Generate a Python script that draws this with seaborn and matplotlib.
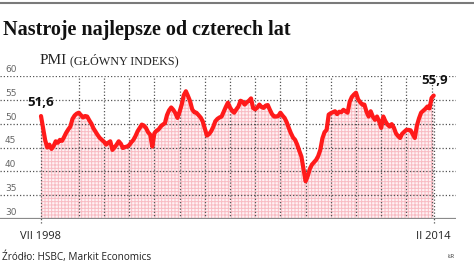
import matplotlib
matplotlib.use('Agg')
import matplotlib.pyplot as plt
import seaborn as sns
import pandas as pd

# PMI monthly values, VII 1998 .. II 2014
pmi = [51.6, 49.0, 46.5, 45.0, 45.6, 44.7, 45.3, 46.3, 46.0, 46.6,
       46.4, 47.2, 48.1, 48.8, 49.4, 51.0, 51.7, 52.1, 52.3, 51.8,
       51.3, 51.6, 51.5, 50.7, 50.0, 49.0, 48.3, 47.6, 47.0, 46.6,
       46.2, 45.6, 46.0, 46.3, 44.5, 45.0, 45.6, 46.3, 45.8, 44.9,
       45.1, 45.2, 45.5, 46.1, 46.6, 47.4, 48.4, 49.1, 49.8, 49.6,
       49.1, 48.2, 47.7, 45.2, 48.0, 48.5, 48.8, 49.4, 49.8, 50.1,
       51.8, 52.8, 53.4, 52.9, 52.2, 51.2, 52.5, 54.0, 56.0, 56.8,
       55.8, 54.7, 53.0, 52.4, 52.3, 51.8, 51.3, 50.5, 49.0, 47.5,
       47.8, 48.4, 49.3, 50.5, 51.0, 51.3, 51.5, 52.5, 53.5, 54.4,
       53.4, 52.7, 52.3, 53.0, 53.6, 54.8, 54.6, 54.0, 54.5, 54.8,
       55.3, 53.3, 53.0, 53.4, 54.0, 53.5, 53.3, 53.8, 53.9, 52.9,
       52.0, 51.5, 51.5, 51.6, 52.3, 51.7, 51.2, 50.3, 49.1, 48.0,
       47.1, 46.6, 45.6, 44.3, 43.1, 40.5, 37.9, 39.0, 40.5, 41.4,
       41.9, 42.4, 43.2, 44.5, 46.9, 48.2, 48.7, 51.9, 52.2, 52.4,
       52.6, 52.0, 52.5, 52.4, 52.9, 52.6, 52.3, 54.6, 55.6, 56.1,
       56.5, 55.1, 54.5, 54.0, 54.0, 52.5, 51.5, 52.6, 51.5, 50.8,
       51.5, 50.5, 49.1, 51.5, 50.5, 49.8, 49.4, 49.9, 49.2, 48.0,
       47.4, 47.0, 47.9, 48.3, 48.7, 48.7, 48.6, 47.8, 47.0, 49.6,
       51.1, 52.3, 52.7, 53.1, 53.6, 53.2, 55.4, 55.9]
months = list(range(len(pmi)))
y_ticks = [30, 35, 40, 45, 50, 55, 60]
x_labels = ['VII 1998', 'II 2014']
start_label = '51,6'
end_label = '55,9'
title = 'Nastroje najlepsze od czterech lat'
sub_main = 'PMI'
sub_small = '(GŁÓWNY INDEKS)'
source = 'Źródło: HSBC, Markit Economics'
author = 'ŁR'

sns.set_theme(style='white')
plt.rcParams['font.family'] = ['DejaVu Sans']
plt.rcParams['hatch.linewidth'] = 0.7

W, H = 474, 266
fig = plt.figure(figsize=(W / 100, H / 100), dpi=100)
PX = 2.1  # px per month
x0 = 41
xr = 456
ax = fig.add_axes([0, (H - 219) / H, xr / W, (219 - 76) / H])
ax.set_xlim(-x0 / PX, (xr - x0) / PX)
ax.set_ylim(30, 60)
ax.set_axis_off()

df = pd.DataFrame({'m': months, 'pmi': pmi})

ax.fill_between(df['m'], 30, df['pmi'], facecolor='#fff2f4', edgecolor='#f8bcc3',
                hatch='+++++', linewidth=0, zorder=1)

for t in y_ticks[1:]:
    ax.axhline(t, color='#555555', lw=0.9, ls=(0, (1, 1.6)), zorder=2)
    ax.annotate(str(t), xy=(5 / xr, t), xycoords=('axes fraction', 'data'),
                xytext=(0, 1.5), textcoords='offset points', ha='left', va='bottom',
                fontsize=6.5, color='#666666')
ax.annotate('30', xy=(5 / xr, 30), xycoords=('axes fraction', 'data'),
            xytext=(0, 1.5), textcoords='offset points', ha='left', va='bottom',
            fontsize=6.5, color='#666666')

grid_months = list(range(18, len(pmi), 12))
for gm in grid_months:
    ax.plot([gm, gm], [30, 60], color='#555555', lw=0.9, ls=(0, (1, 1.6)), zorder=2)
for gm in [0, len(pmi) - 1]:
    ax.plot([gm, gm], [29.2, pmi[gm]], color='#555555', lw=0.9, ls=(0, (1, 1.6)),
            zorder=2, clip_on=False)

ax.axhline(30, color='#8a8a8a', lw=1.6, zorder=2)

sns.lineplot(data=df, x='m', y='pmi', color='#ff1a1a', lw=3.0, ax=ax, zorder=4,
             legend=False)
ax.set_axis_off()

ax.annotate(start_label, xy=(0, pmi[0]), xytext=(0, 5), textcoords='offset points',
            ha='center', va='bottom', fontsize=9.5, fontweight='bold', color='#111111',
            family=['Open Sans', 'DejaVu Sans'])
ax.annotate(end_label, xy=(len(pmi) - 1, pmi[-1]), xytext=(1, 6), textcoords='offset points',
            ha='center', va='bottom', fontsize=9.5, fontweight='bold', color='#111111',
            family=['Open Sans', 'DejaVu Sans'])

ax.annotate(x_labels[0], xy=(0, 30), xytext=(0, -17.5), textcoords='offset pixels',
            ha='center', va='center', fontsize=8, color='#222222',
            family=['Open Sans', 'DejaVu Sans'], annotation_clip=False)
ax.annotate(x_labels[1], xy=(len(pmi) - 1, 30), xytext=(0, -17.5), textcoords='offset pixels',
            ha='center', va='center', fontsize=8, color='#222222',
            family=['Open Sans', 'DejaVu Sans'], annotation_clip=False)

# top rule
fig.add_artist(plt.Line2D([0, 1], [1 - 2.5 / H, 1 - 2.5 / H], color='#7a7a7a', lw=1.5))

fig.text(3 / W, 1 - 30 / H, title, ha='left', va='center', fontsize=14.5,
         fontweight='bold', color='#111111', family=['Liberation Serif', 'DejaVu Serif'])

t1 = fig.text(40 / W, 1 - 60 / H, sub_main, ha='left', va='center', fontsize=11,
              color='#222222', family=['Liberation Serif', 'DejaVu Serif'])
fig.canvas.draw()
bb = t1.get_window_extent()
fig.text((bb.x1 + 3) / W, 1 - 60.5 / H, sub_small, ha='left', va='center', fontsize=8.7,
         color='#222222', family=['Liberation Serif', 'DejaVu Serif'])

fig.text(2 / W, 1 - 257 / H, source, ha='left', va='center', fontsize=7.2,
         color='#222222', family=['Open Sans', 'DejaVu Sans'])
fig.text(451 / W, 1 - 257 / H, author, ha='center', va='center', fontsize=4.5,
         color='#333333', family=['Open Sans', 'DejaVu Sans'])

fig.savefig('out.png', dpi=100)
